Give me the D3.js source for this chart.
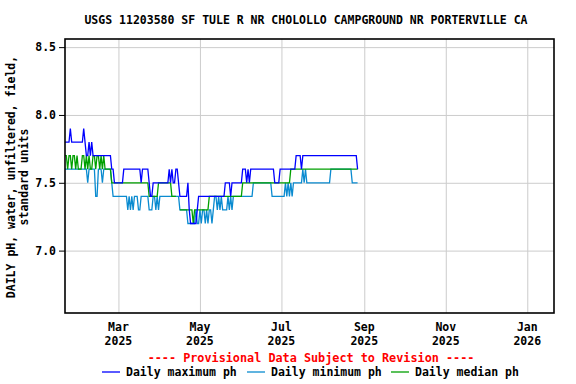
<!DOCTYPE html>
<html>
<head>
<meta charset="utf-8">
<script src="https://cdn.jsdelivr.net/npm/d3@7"></script>
<style>
body { margin: 0; background: #fff; }
text { font-family: "DejaVu Sans Mono", monospace; font-weight: bold; }
</style>
</head>
<body>
<script>
// daily values, first day 2025-01-20
var firstDay = "2025-01-20";

var maxPh = [
	7.8,7.8,7.8,7.8,7.9,7.8,7.8,7.8,7.8,7.8,
	7.8,7.8,7.8,7.8,7.9,7.8,7.7,7.7,7.8,7.7,
	7.8,7.7,7.7,7.7,7.7,7.7,7.7,7.7,7.7,7.7,
	7.7,7.7,7.7,7.7,7.7,7.6,7.6,7.5,7.5,7.5,
	7.5,7.5,7.5,7.5,7.6,7.6,7.6,7.6,7.6,7.6,
	7.6,7.6,7.6,7.6,7.6,7.6,7.6,7.5,7.6,7.6,
	7.6,7.6,7.6,7.5,7.4,7.4,7.5,7.5,7.5,7.5,
	7.5,7.5,7.5,7.5,7.5,7.5,7.5,7.5,7.6,7.5,
	7.6,7.5,7.5,7.6,7.6,7.5,7.4,7.4,7.4,7.4,
	7.4,7.4,7.5,7.3,7.2,7.2,7.2,7.2,7.2,7.3,
	7.4,7.4,7.4,7.4,7.4,7.4,7.4,7.4,7.4,7.4,
	7.4,7.4,7.4,7.4,7.4,7.4,7.4,7.4,7.4,7.4,
	7.5,7.5,7.5,7.5,7.4,7.5,7.5,7.5,7.5,7.5,
	7.5,7.5,7.5,7.6,7.6,7.6,7.5,7.6,7.5,7.6,
	7.6,7.6,7.6,7.6,7.6,7.6,7.6,7.6,7.6,7.6,
	7.6,7.6,7.6,7.6,7.6,7.6,7.6,7.5,7.5,7.5,
	7.5,7.6,7.6,7.6,7.6,7.6,7.6,7.6,7.6,7.6,
	7.6,7.6,7.6,7.7,7.7,7.7,7.7,7.6,7.7,7.7,
	7.7,7.7,7.7,7.7,7.7,7.7,7.7,7.7,7.7,7.7,
	7.7,7.7,7.7,7.7,7.7,7.7,7.7,7.7,7.7,7.7,
	7.7,7.7,7.7,7.7,7.7,7.7,7.7,7.7,7.7,7.7,
	7.7,7.7,7.7,7.7,7.7,7.7,7.7,7.7,7.7,7.6
];

var minPh = [
	7.6,7.6,7.6,7.6,7.6,7.6,7.6,7.6,7.6,7.6,
	7.6,7.6,7.6,7.6,7.6,7.6,7.6,7.5,7.6,7.6,
	7.6,7.6,7.6,7.4,7.4,7.6,7.6,7.6,7.5,7.6,
	7.6,7.6,7.6,7.6,7.6,7.5,7.4,7.4,7.4,7.4,
	7.4,7.4,7.4,7.4,7.4,7.4,7.4,7.3,7.4,7.3,
	7.4,7.3,7.4,7.4,7.4,7.3,7.3,7.4,7.4,7.4,
	7.4,7.4,7.4,7.3,7.3,7.3,7.4,7.4,7.3,7.4,
	7.3,7.4,7.4,7.4,7.4,7.4,7.4,7.4,7.4,7.4,
	7.4,7.4,7.4,7.4,7.4,7.4,7.3,7.3,7.3,7.3,
	7.3,7.3,7.2,7.2,7.2,7.2,7.2,7.2,7.3,7.2,
	7.2,7.3,7.2,7.3,7.3,7.2,7.3,7.2,7.3,7.3,
	7.2,7.3,7.4,7.4,7.3,7.4,7.3,7.4,7.3,7.3,
	7.3,7.3,7.4,7.3,7.4,7.3,7.4,7.4,7.4,7.4,
	7.4,7.4,7.4,7.4,7.4,7.4,7.4,7.4,7.4,7.4,
	7.4,7.5,7.5,7.5,7.5,7.5,7.5,7.5,7.5,7.5,
	7.5,7.5,7.5,7.5,7.5,7.4,7.4,7.4,7.4,7.4,
	7.4,7.4,7.4,7.4,7.4,7.5,7.4,7.5,7.4,7.5,
	7.4,7.5,7.5,7.5,7.5,7.5,7.5,7.5,7.6,7.5,
	7.6,7.5,7.5,7.5,7.5,7.5,7.5,7.5,7.5,7.5,
	7.5,7.5,7.5,7.5,7.5,7.5,7.5,7.5,7.5,7.6,
	7.6,7.6,7.6,7.6,7.6,7.6,7.6,7.6,7.6,7.6,
	7.6,7.6,7.6,7.6,7.6,7.5,7.5,7.5,7.5,7.5
];

var medPh = [
	7.7,7.7,7.6,7.7,7.7,7.6,7.7,7.7,7.6,7.7,
	7.6,7.6,7.6,7.7,7.7,7.6,7.7,7.6,7.7,7.6,
	7.6,7.7,7.7,7.6,7.7,7.7,7.6,7.7,7.6,7.7,
	7.6,7.6,7.6,7.6,7.6,7.5,7.5,7.5,7.5,7.5,
	7.5,7.5,7.5,7.5,7.5,7.5,7.5,7.5,7.5,7.5,
	7.5,7.5,7.5,7.5,7.5,7.5,7.5,7.5,7.5,7.5,
	7.5,7.5,7.5,7.4,7.4,7.4,7.4,7.4,7.4,7.4,
	7.5,7.5,7.5,7.5,7.5,7.5,7.5,7.5,7.5,7.5,
	7.4,7.4,7.4,7.4,null,null,7.3,7.3,7.3,7.3,
	7.3,7.3,7.3,7.3,7.3,7.3,7.2,7.3,7.3,7.3,
	7.3,7.3,7.3,7.3,7.3,7.3,7.3,7.3,7.4,7.4,
	7.4,7.4,7.4,7.4,7.4,7.4,7.4,7.4,7.4,7.4,
	7.4,7.4,7.4,7.4,7.4,7.4,7.4,7.4,7.4,7.4,
	7.4,7.4,7.4,7.5,7.5,7.5,7.5,7.5,7.5,7.5,
	7.5,7.5,7.5,7.5,7.5,7.5,7.5,7.5,7.5,7.5,
	7.5,7.5,7.5,7.5,7.5,7.5,7.5,7.5,7.5,7.5,
	7.5,7.5,7.5,7.5,7.5,7.5,7.5,7.5,7.5,7.6,
	7.6,7.6,7.6,7.6,7.6,7.6,7.6,7.6,7.6,7.6,
	7.6,7.6,7.6,7.6,7.6,7.6,7.6,7.6,7.6,7.6,
	7.6,7.6,7.6,7.6,7.6,7.6,7.6,7.6,7.6,7.6,
	7.6,7.6,7.6,7.6,7.6,7.6,7.6,7.6,7.6,7.6,
	7.6,7.6,7.6,7.6,7.6,7.6,7.6,7.6,7.6,7.6
];

var yTicks = [7.0, 7.5, 8.0, 8.5];
var xTicks = ["2025-03-01","2025-05-01","2025-07-01","2025-09-01","2025-11-01","2026-01-01"];
var seriesNames = ["Daily maximum ph", "Daily minimum ph", "Daily median ph"];
var seriesColors = ["#0000ff", "#0a8bd0", "#00a000"];

var title = "USGS 11203580 SF TULE R NR CHOLOLLO CAMPGROUND NR PORTERVILLE CA";
var yLabel = ["DAILY pH, water, unfiltered, field,", "standard units"];
var provisional = "---- Provisional Data Subject to Revision ----";

var parse = d3.utcParse("%Y-%m-%d");
var W = 576, H = 384;
var margin = {top: 39, right: 22, bottom: 71, left: 65};
var width = W - margin.left - margin.right,
	height = H - margin.top - margin.bottom;

var svg = d3.select("body").append("svg")
	.attr("width", W)
	.attr("height", H);

var g = svg.append("g")
	.attr("transform", "translate(" + margin.left + "," + margin.top + ")");

var start = parse(firstDay);
var x = d3.scaleUtc()
	.domain([start, parse("2026-01-21")])
	.range([0, width]);
var y = d3.scaleLinear()
	.domain([6.54, 8.56])
	.range([height, 0]);

// grid
g.append("g")
	.call(d3.axisBottom(x).tickValues(xTicks.map(parse)).tickSize(height).tickFormat(""))
	.call(a => a.select(".domain").remove())
	.selectAll("line").attr("stroke", "#cccccc");

g.append("g")
	.call(d3.axisLeft(y).tickValues(yTicks).tickSize(-width).tickFormat(""))
	.call(a => a.select(".domain").remove())
	.selectAll("line").attr("stroke", "#cccccc");

// y ticks + labels
var yAxis = g.append("g")
	.call(d3.axisLeft(y).tickValues(yTicks).tickSize(6).tickPadding(3).tickFormat(d3.format(".1f")));
yAxis.select(".domain").remove();
yAxis.selectAll("line").attr("stroke", "#000");
yAxis.selectAll("text").attr("font-size", "11.5px").attr("fill", "#000")
	.style("font-family", "DejaVu Sans Mono").style("font-weight", "bold");

// x labels, two lines
var xl = g.append("g").attr("transform", "translate(0," + height + ")");
xTicks.forEach(function(t){
	var d = parse(t);
	var tx = xl.append("text")
		.attr("x", x(d))
		.attr("text-anchor", "middle")
		.attr("font-size", "11.5px");
	tx.append("tspan").attr("x", x(d)).attr("y", 18).text(d3.utcFormat("%b")(d));
	tx.append("tspan").attr("x", x(d)).attr("y", 32).text(d3.utcFormat("%Y")(d));
});

// lines: min, median, max (max on top)
var line = d3.line()
	.defined(d => d.v != null)
	.x(d => x(d.date))
	.y(d => y(d.v));

function toSeries(vals){
	return vals.map(function(v, i){
		return {date: d3.utcDay.offset(start, i), v: v};
	});
}

var drawOrder = [[minPh, 1], [medPh, 2], [maxPh, 0]];
drawOrder.forEach(function(s){
	g.append("path")
		.datum(toSeries(s[0]))
		.attr("fill", "none")
		.attr("stroke", seriesColors[s[1]])
		.attr("stroke-width", 1.3)
		.attr("d", line);
});

// frame
g.append("rect")
	.attr("width", width)
	.attr("height", height)
	.attr("fill", "none")
	.attr("stroke", "#000")
	.attr("stroke-width", 1.6);

// title
svg.append("text")
	.attr("x", 306)
	.attr("y", 24)
	.attr("text-anchor", "middle")
	.attr("font-size", "11.5px")
	.text(title);

// y label
var yl = svg.append("text")
	.attr("transform", "translate(0," + (margin.top + height / 2 + 1) + ") rotate(-90)")
	.attr("text-anchor", "middle")
	.attr("font-size", "11.5px");
yl.append("tspan").attr("x", 0).attr("y", 15).text(yLabel[0]);
yl.append("tspan").attr("x", 0).attr("y", 28).text(yLabel[1]);

// provisional note
svg.append("text")
	.attr("x", 311)
	.attr("y", 362)
	.attr("text-anchor", "middle")
	.attr("font-size", "11.8px")
	.attr("fill", "#ff0000")
	.text(provisional);

// legend
var legX = [102, 247, 391];
seriesNames.forEach(function(n, i){
	svg.append("line")
		.attr("x1", legX[i]).attr("x2", legX[i] + 18)
		.attr("y1", 372).attr("y2", 372)
		.attr("stroke", seriesColors[i])
		.attr("stroke-width", 1.3);
	svg.append("text")
		.attr("x", legX[i] + 24)
		.attr("y", 376)
		.attr("font-size", "11.5px")
		.text(n);
});
</script>
</body>
</html>
